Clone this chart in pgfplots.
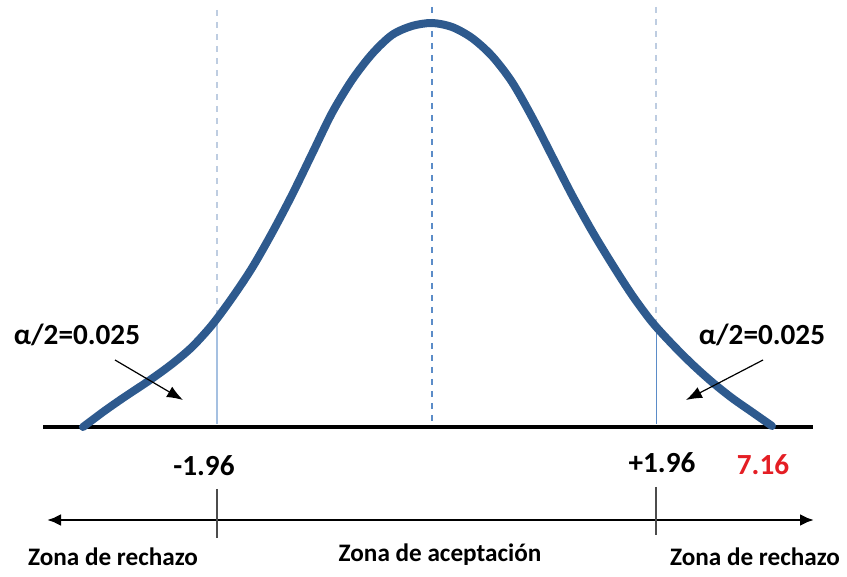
\documentclass[border=0pt]{standalone}
\usepackage{pgfplots}
\pgfplotsset{compat=1.18}
\usepackage{fontspec}
\setmainfont{Carlito}
\usetikzlibrary{arrows.meta}
\definecolor{curveblue}{RGB}{46,90,142}
\definecolor{lineblue}{RGB}{91,140,200}
\definecolor{paleline}{RGB}{190,205,225}
\definecolor{numred}{RGB}{228,30,36}
\begin{document}
\begin{tikzpicture}
\begin{axis}[
  width=423.5pt, height=288.5pt, scale only axis,
  xmin=0, xmax=847, ymin=0, ymax=577, y dir=reverse,
  hide axis, clip=false,
]
\path (axis cs:0,0) rectangle (axis cs:847,577);
% vertical reference lines
\addplot[paleline, dashed, line width=0.8pt] coordinates {(217,10) (217,318)};
\addplot[lineblue!55, line width=0.6pt] coordinates {(217,318) (217,424)};
\addplot[lineblue, dashed, line width=0.6pt] coordinates {(432,7) (432,424)};
\addplot[paleline, dashed, line width=0.8pt] coordinates {(656,7) (656,327)};
\addplot[lineblue, line width=0.5pt] coordinates {(656,327) (656,424)};
% baseline
\addplot[black, line width=2.2pt] coordinates {(43,427) (813,427)};
% curve
\addplot[curveblue, line width=4pt, smooth, tension=0.5, line cap=round] coordinates {
(83,427) (103,412) (123,398) (150,380) (172,364) (192,347) (212,325)
(232,298) (252,268) (272,233) (292,195) (312,154) (332,113) (352,80) (372,54)
(392,35) (412,26) (432,23) (452,27) (472,38) (492,56) (512,82) (532,117)
(552,156) (572,195) (592,231) (612,264) (632,295) (652,322) (672,344) (692,364)
(712,382) (732,398) (752,412) (772,426)};
% pointer arrows
\addplot[black, line width=0.6pt, -{Latex[length=8pt,width=6pt]}] coordinates {(115,360) (183,400)};
\addplot[black, line width=0.6pt, -{Latex[length=8pt,width=6pt]}] coordinates {(763,360) (686,400)};
% bottom axis with arrows
\addplot[black, line width=1.4pt, {Latex[length=7pt,width=6pt]}-{Latex[length=7pt,width=6pt]}] coordinates {(47,520) (814,520)};
\addplot[black!70, line width=0.6pt] coordinates {(217,489) (217,538)};
\addplot[black!70, line width=0.6pt] coordinates {(656,487) (656,535)};
% labels
\node[font=\fontsize{14.6}{16}\selectfont\bfseries] at (axis cs:77,335) {α/2=0.025};
\node[font=\fontsize{14.6}{16}\selectfont\bfseries] at (axis cs:762,335) {α/2=0.025};
\node[font=\fontsize{14.6}{16}\selectfont\bfseries] at (axis cs:204,466) {-1.96};
\node[font=\fontsize{14.6}{16}\selectfont\bfseries] at (axis cs:662,463) {+1.96};
\node[font=\fontsize{14.6}{16}\selectfont\bfseries, text=numred] at (axis cs:763,465) {7.16};
\node[font=\fontsize{12.6}{14}\selectfont\bfseries] at (axis cs:113,557) {Zona de rechazo};
\node[font=\fontsize{12.6}{14}\selectfont\bfseries] at (axis cs:440,555) {Zona de aceptación};
\node[font=\fontsize{12.6}{14}\selectfont\bfseries] at (axis cs:755,557) {Zona de rechazo};
\end{axis}
\end{tikzpicture}
\end{document}
